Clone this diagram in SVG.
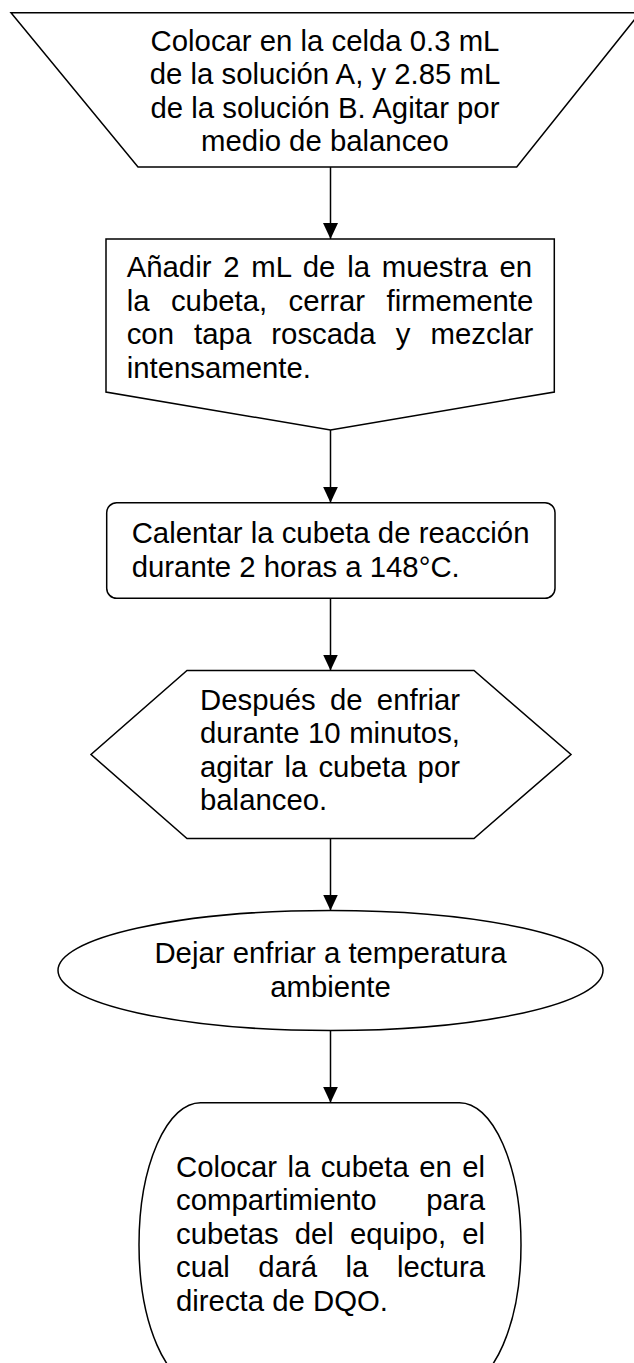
<svg xmlns="http://www.w3.org/2000/svg" width="634" height="1363" viewBox="0 0 634 1363">
<style>
.s{fill:#fff;stroke:#000;stroke-width:1.5;}
.t{font-family:"Liberation Sans",Arial,sans-serif;font-size:29.33px;fill:#000;}
.c{text-anchor:middle;}
.ln{stroke:#000;stroke-width:1.5;fill:none;}
</style>
<defs>
<marker id="ah" markerUnits="userSpaceOnUse" markerWidth="16" markerHeight="16" viewBox="0 -8 16 16" refX="16" refY="0" orient="auto">
<path d="M0,-7.5 L16,0 L0,7.5 Z" fill="#000"/>
</marker>
</defs>
<rect width="634" height="1363" fill="#fff"/>
<g id="connectors">
<line class="ln" x1="330.5" y1="167" x2="330.5" y2="239" marker-end="url(#ah)"/>
<line class="ln" x1="330.5" y1="430" x2="330.5" y2="502.7" marker-end="url(#ah)"/>
<line class="ln" x1="330.5" y1="598.3" x2="330.5" y2="670.5" marker-end="url(#ah)"/>
<line class="ln" x1="330.5" y1="838.5" x2="330.5" y2="910.5" marker-end="url(#ah)"/>
<line class="ln" x1="330.5" y1="1030.5" x2="330.5" y2="1102.7" marker-end="url(#ah)"/>
</g>
<g id="n1">
<polygon class="s" points="11,12.7 640,12.7 516.7,167 138,167"/>
<text class="t c"><tspan x="325" y="50.5">Colocar en la celda 0.3 mL</tspan><tspan x="325" y="84">de la solución A, y 2.85 mL</tspan><tspan x="325" y="117.5">de la solución B. Agitar por</tspan><tspan x="325" y="151">medio de balanceo</tspan></text>
</g>
<g id="n2">
<polygon class="s" points="106,239 554.3,239 554.3,392 330.5,430 106,392"/>
<text class="t" x="126.7" y="277" word-spacing="3.64">Añadir 2 mL de la muestra en</text>
<text class="t" x="126.7" y="310.5" word-spacing="13.27">la cubeta, cerrar firmemente</text>
<text class="t" x="126.7" y="344" word-spacing="11.99">con tapa roscada y mezclar</text>
<text class="t" x="126.7" y="377.5">intensamente.</text>
</g>
<g id="n3">
<rect class="s" x="106.7" y="502.7" width="448.3" height="95.6" rx="10"/>
<text class="t" x="131.7" y="543.3">Calentar la cubeta de reacción</text>
<text class="t" x="131.7" y="576.7">durante 2 horas a 148°C.</text>
</g>
<g id="n4">
<polygon class="s" points="187,670.5 474,670.5 571,754.5 474,838.5 187,838.5 91,754.5"/>
<text class="t" x="200" y="709.5" word-spacing="6.1">Después de enfriar</text>
<text class="t" x="200" y="743" word-spacing="0.37">durante 10 minutos,</text>
<text class="t" x="200" y="776.5" word-spacing="2.97">agitar la cubeta por</text>
<text class="t" x="200" y="810">balanceo.</text>
</g>
<g id="n5">
<ellipse class="s" cx="330.5" cy="970.5" rx="272.5" ry="60"/>
<text class="t c"><tspan x="330.5" y="963.3">Dejar enfriar a temperatura</tspan><tspan x="330.5" y="996.7">ambiente</tspan></text>
</g>
<g id="n6">
<path class="s" d="M200.5,1102.7 H459.5 A61.5,142 0 0 1 459.5,1386.7 H200.5 A61.5,142 0 0 1 200.5,1102.7 Z"/>
<text class="t" x="176" y="1177" word-spacing="2.25">Colocar la cubeta en el</text>
<text class="t" x="176" y="1210.4" word-spacing="41.66">compartimiento para</text>
<text class="t" x="176" y="1243.8" word-spacing="7.88">cubetas del equipo, el</text>
<text class="t" x="176" y="1277.2" word-spacing="20.4">cual dará la lectura</text>
<text class="t" x="176" y="1310.6">directa de DQO.</text>
</g>
</svg>
